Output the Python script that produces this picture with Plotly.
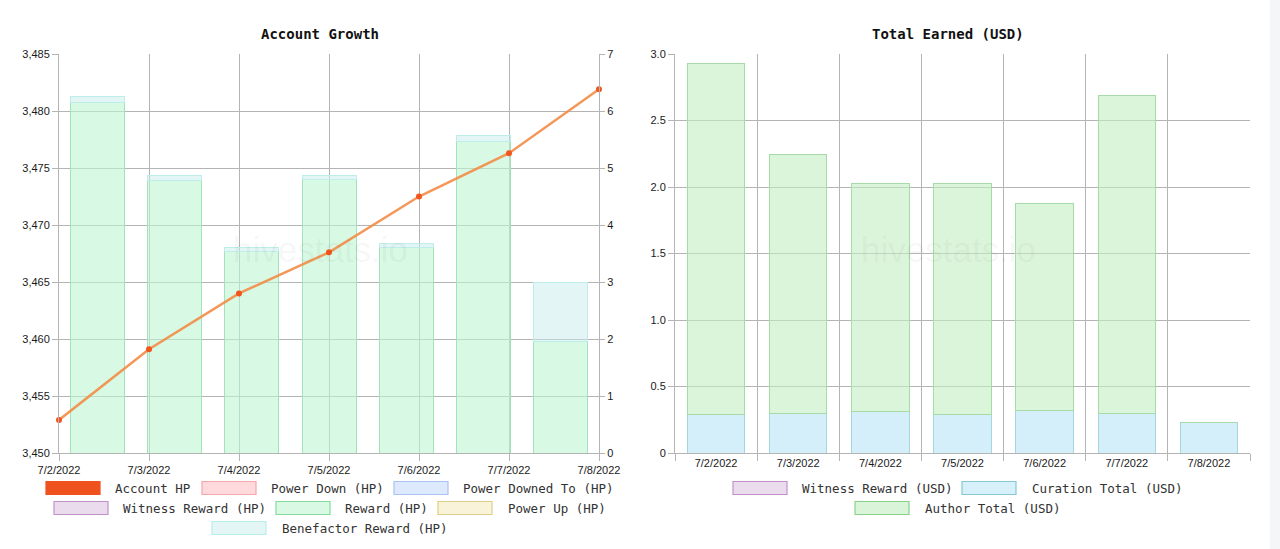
import plotly.graph_objects as go
import pandas as pd

# ---------------- data ----------------
dates = ["7/2/2022", "7/3/2022", "7/4/2022", "7/5/2022", "7/6/2022", "7/7/2022", "7/8/2022"]

account_hp = [3452.9, 3459.1, 3464.0, 3467.6, 3472.5, 3476.3, 3481.9]
reward_hp = [6.15, 4.78, 3.53, 4.80, 3.61, 5.47, 1.95]
benefactor_hp = [0.11, 0.08, 0.08, 0.07, 0.07, 0.10, 1.04]

witness_usd = [0, 0, 0, 0, 0, 0, 0]
curation_usd = [0.291, 0.296, 0.311, 0.286, 0.316, 0.299, 0.233]
author_usd = [2.64, 1.95, 1.714, 1.744, 1.561, 2.388, 0]

left_legend = ["Account HP", "Power Down (HP)", "Power Downed To (HP)",
               "Witness Reward (HP)", "Reward (HP)", "Power Up (HP)",
               "Benefactor Reward (HP)"]
right_legend = ["Witness Reward (USD)", "Curation Total (USD)", "Author Total (USD)"]

usd_ticks = [0, 0.5, 1.0, 1.5, 2.0, 2.5, 3.0]
usd_ticktext = ["0", "0.5", "1.0", "1.5", "2.0", "2.5", "3.0"]

# ---------------- styling ----------------
W, H = 1280, 549
GRID = "#b4b4b4"
TICKFONT = dict(family="Liberation Sans", size=11, color="#1a1a1a")
MONO = "DejaVu Sans Mono"

C_ACC_LINE = "rgba(243,140,70,0.9)"
C_ACC_MARK = "#f0561d"
C_REWARD_FILL, C_REWARD_LINE = "rgba(190,245,210,0.6)", "#a2e2b8"
C_BENEF_FILL, C_BENEF_LINE = "rgba(200,238,236,0.5)", "#bdeeea"
C_CUR_FILL, C_CUR_LINE = "rgba(195,232,248,0.7)", "#a6d6e0"
C_AUTH_FILL, C_AUTH_LINE = "rgba(195,238,195,0.6)", "#a6daa6"


def px(x):
    return x / W


def py(y):
    return 1 - y / H


date_iso = [pd.to_datetime(d, format="%m/%d/%Y").strftime("%Y-%m-%d") for d in dates]

LX0, LX1 = 59, 599
RX0, RX1 = 675, 1250
Y0, Y1 = 54, 453
ydom = [py(Y1), py(Y0)]

fig = go.Figure()

# Left chart bars (category axis, right value axis)
fig.add_trace(go.Bar(
    x=dates, y=reward_hp, name="Reward (HP)", xaxis="x", yaxis="y", width=0.7,
    marker=dict(color=C_REWARD_FILL, line=dict(color=C_REWARD_LINE, width=1)),
    showlegend=False))
fig.add_trace(go.Bar(
    x=dates, y=benefactor_hp, name="Benefactor Reward (HP)", xaxis="x", yaxis="y", width=0.7,
    marker=dict(color=C_BENEF_FILL, line=dict(color=C_BENEF_LINE, width=1)),
    showlegend=False))

# Left chart line (date axis, left axis)
fig.add_trace(go.Scatter(
    x=date_iso, y=account_hp, name="Account HP", xaxis="x2", yaxis="y2",
    mode="lines+markers", line=dict(color=C_ACC_LINE, width=2.5),
    marker=dict(color=C_ACC_MARK, size=6), cliponaxis=False, showlegend=False))

# Right chart stacked bars
fig.add_trace(go.Bar(
    x=dates, y=witness_usd, name="Witness Reward (USD)", xaxis="x3", yaxis="y3", width=0.7,
    marker=dict(color="rgba(220,200,225,0.6)", line=dict(color="#c090c8", width=0)),
    showlegend=False))
fig.add_trace(go.Bar(
    x=dates, y=curation_usd, name="Curation Total (USD)", xaxis="x3", yaxis="y3", width=0.7,
    marker=dict(color=C_CUR_FILL, line=dict(color=C_CUR_LINE, width=1)),
    showlegend=False))
fig.add_trace(go.Bar(
    x=dates, y=author_usd, name="Author Total (USD)", xaxis="x3", yaxis="y3", width=0.7,
    marker=dict(color=C_AUTH_FILL, line=dict(color=C_AUTH_LINE, width=1)),
    showlegend=False))

common = dict(tickfont=TICKFONT, tickcolor=GRID, gridcolor=GRID, zeroline=False,
              linecolor=GRID, fixedrange=True, automargin=False)

layout = dict(
    width=W, height=H,
    margin=dict(l=0, r=0, t=0, b=0, pad=0),
    paper_bgcolor="white", plot_bgcolor="rgba(0,0,0,0)",
    barmode="stack", bargap=0.29,
    showlegend=False,
    xaxis=dict(domain=[px(LX0), px(LX1)], anchor="y", type="category",
               range=[-0.5, 6.5], showgrid=False, showticklabels=False,
               ticks="", showline=False, zeroline=False, fixedrange=True,
               automargin=False),
    yaxis=dict(domain=ydom, anchor="x", side="right", range=[0, 7], dtick=1,
               ticks="outside", ticklen=5, showgrid=False, showline=True, **common),
    xaxis2=dict(overlaying="x", anchor="y2", type="date",
                range=[date_iso[0], date_iso[-1]], tickvals=date_iso, ticktext=dates,
                ticks="outside", ticklen=7, showgrid=True, showline=True, **common),
    yaxis2=dict(overlaying="y", anchor="x2", side="left", range=[3450, 3485], dtick=5,
                tickformat=",", ticks="outside", ticklen=6, showgrid=True,
                showline=True, **common),
    xaxis3=dict(domain=[px(RX0), px(RX1)], anchor="y3", type="category",
                range=[-0.5, 6.5], tickson="boundaries", ticks="outside", ticklen=7,
                showgrid=True, showline=True, **common),
    yaxis3=dict(domain=ydom, anchor="x3", range=[0, 3], tickvals=usd_ticks,
                ticktext=usd_ticktext, ticks="outside", ticklen=6, showgrid=True,
                showline=True, **common),
)

annotations = []
# Titles
annotations.append(dict(text="<b>Account Growth</b>", x=px(320), y=py(34), xref="paper",
                        yref="paper", showarrow=False, xanchor="center", yanchor="middle",
                        font=dict(family=MONO, size=14, color="#111111")))
annotations.append(dict(text="<b>Total Earned (USD)</b>", x=px(948), y=py(34), xref="paper",
                        yref="paper", showarrow=False, xanchor="center", yanchor="middle",
                        font=dict(family=MONO, size=14, color="#111111")))
# Watermarks
for cx in (320, 948):
    annotations.append(dict(text="hivestats.io", x=px(cx), y=py(249), xref="paper",
                            yref="paper", showarrow=False, xanchor="center",
                            yanchor="middle",
                            font=dict(family="Liberation Sans", size=35,
                                      color="rgba(0,0,0,0.05)")))

shapes = []
# Legend swatches (fill, border) + label positions
left_styles = [
    ("#f0521f", "#f0521f"),
    ("#ffd9dc", "#f3a6ad"),
    ("#dde9fd", "#a9c4f3"),
    ("#eadcec", "#c292cb"),
    ("#d9f9e4", "#86dca0"),
    ("#f9f4d9", "#dccf8c"),
    ("#e3f6f5", "#b6efea"),
]
left_pos = [  # (swatch x0, row centre y, label x)
    (46, 488, 113), (202, 488, 269), (394, 488, 461),
    (54, 508, 121), (276, 508, 343), (438, 508, 506),
    (212, 528, 280),
]
right_styles = [
    ("#eadcec", "#c292cb"),
    ("#d8f0fa", "#86c8d4"),
    ("#daf4da", "#8ad28a"),
]
right_pos = [(733, 488, 800), (962, 488, 1030), (855, 508, 923)]

for labels, styles, pos in ((left_legend, left_styles, left_pos),
                            (right_legend, right_styles, right_pos)):
    for lab, (fc, lc), (sx, sy, lx) in zip(labels, styles, pos):
        shapes.append(dict(type="rect", xref="paper", yref="paper",
                           x0=px(sx), x1=px(sx + 54), y0=py(sy + 6.5), y1=py(sy - 6.5),
                           fillcolor=fc, line=dict(color=lc, width=1.2), layer="above"))
        annotations.append(dict(text=lab, x=px(lx), y=py(sy), xref="paper", yref="paper",
                                showarrow=False, xanchor="left", yanchor="middle",
                                font=dict(family=MONO, size=12.5, color="#333333")))

# faint page strip at right edge
shapes.append(dict(type="rect", xref="paper", yref="paper", x0=px(1270), x1=1, y0=0, y1=1,
                   fillcolor="#f5f6f8", line=dict(width=0), layer="below"))

layout["annotations"] = annotations
layout["shapes"] = shapes
fig.update_layout(**layout)

fig.write_html("out.html", config={"displayModeBar": False},
               post_script="document.body.style.margin='0';document.body.style.overflow='hidden';")
